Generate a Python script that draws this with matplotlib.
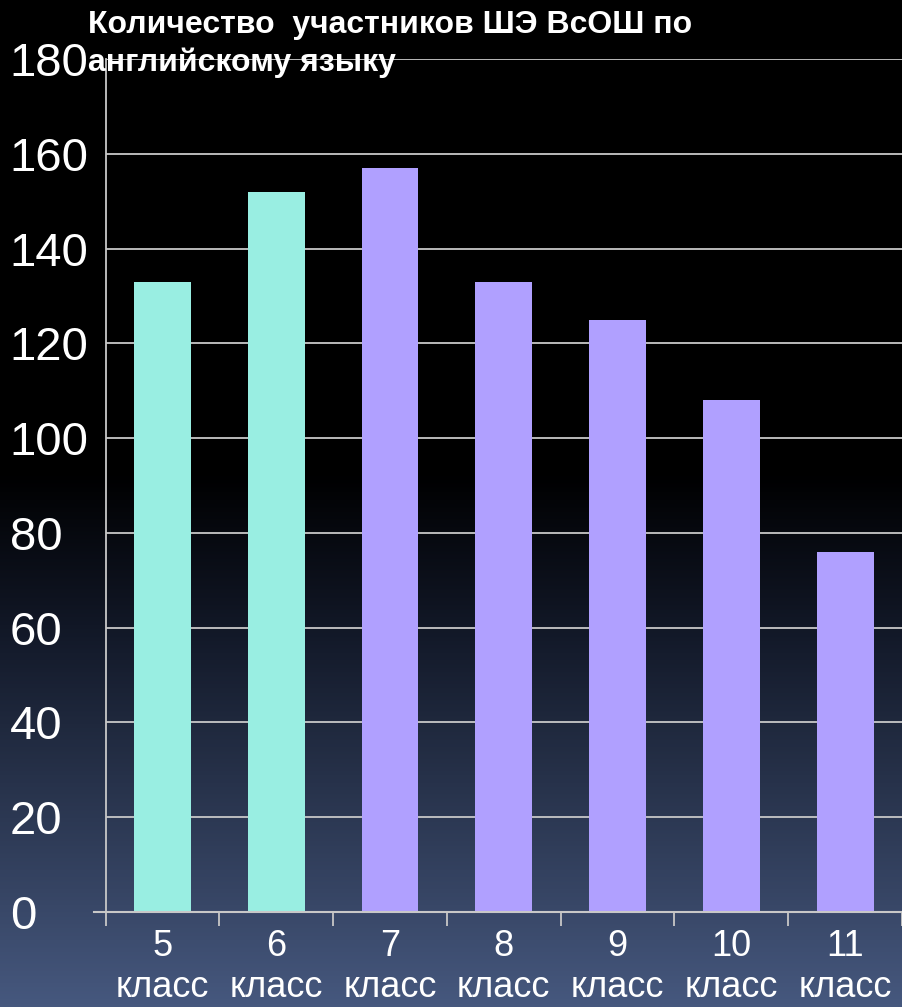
import numpy as np
import matplotlib
matplotlib.use("Agg")
import matplotlib.pyplot as plt
from matplotlib.colors import LinearSegmentedColormap

grades = ["5", "6", "7", "8", "9", "10", "11"]
labels = [g + "\nкласс" for g in grades]
values = [133, 152, 157, 133, 125, 108, 76]
colors = ["#99EEE2", "#99EEE2", "#B0A0FF", "#B0A0FF", "#B0A0FF", "#B0A0FF", "#B0A0FF"]
yticks = [0, 20, 40, 60, 80, 100, 120, 140, 160, 180]
title = "Количество  участников ШЭ ВсОШ по\nанглийскому языку"

plt.rcParams['font.family'] = ['Liberation Sans', 'DejaVu Sans']

fig = plt.figure(figsize=(9.02, 10.07), dpi=100)
# background gradient
bg = fig.add_axes([0, 0, 1, 1], zorder=-10)
cmap = LinearSegmentedColormap.from_list(
    "bg", [(0.0, "#000000"), (0.47, "#000000"), (0.62, "#111726"), (1.0, "#46587e")])
grad = np.linspace(0, 1, 512).reshape(-1, 1)
bg.imshow(grad, aspect="auto", cmap=cmap, extent=[0, 1, 0, 1], origin="upper")
bg.axis("off")

ax = fig.add_axes([0.117, 0.0943, 0.883, 0.8471])
ax.set_facecolor("none")
x = np.arange(len(values))
ax.bar(x, values, width=0.5, color=colors, zorder=3)
ax.set_xlim(-0.5, len(values) - 0.5)
ax.set_ylim(0, 180)
ax.set_yticks(yticks)
ax.yaxis.grid(True, color="#c8c8c8", linewidth=1.3, zorder=1)
ax.set_axisbelow(True)
for s in ["top", "right"]:
    ax.spines[s].set_visible(False)
ax.spines["left"].set_color("#c8c8c8")
ax.spines["left"].set_linewidth(1.3)
ax.spines["bottom"].set_visible(False)
ax.plot([-0.6, len(values) - 0.5], [0, 0], color="#c8c8c8", lw=1.5,
        clip_on=False, zorder=4)
ax.set_yticklabels([str(t) for t in yticks], fontsize=34, color="white", ha="left")
ax.tick_params(axis="y", length=0, pad=69)

ax.set_xticks(x)
ax.set_xticklabels(labels, fontsize=26, color="white", linespacing=1.25)
ax.tick_params(axis="x", length=0, pad=12)
ax.set_xticks(np.arange(-0.5, len(values), 1.0), minor=True)
ax.tick_params(axis="x", which="minor", length=10, width=1.3, color="#c8c8c8", direction="out")

fig.text(88 / 902, 1 - 10 / 1007, title, fontsize=23, fontweight="bold", color="white",
         ha="left", va="top", linespacing=1.3)

fig.savefig("out.png", dpi=100)
